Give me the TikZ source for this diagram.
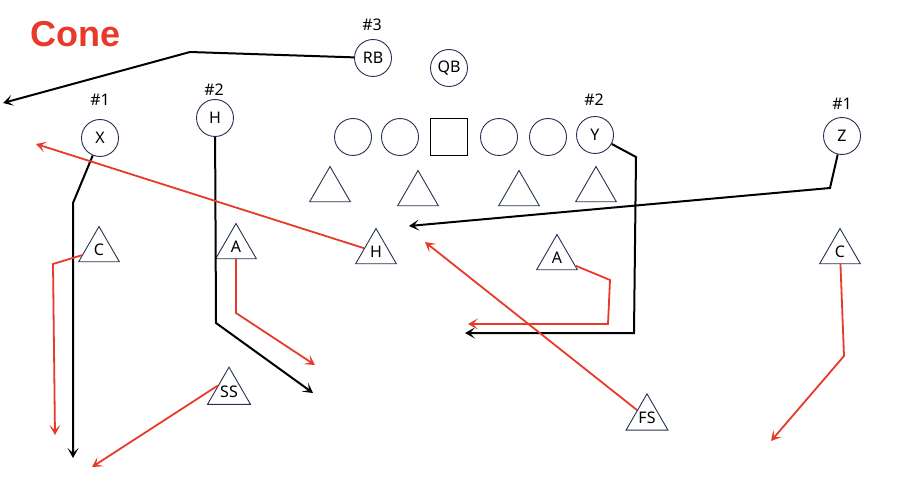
\documentclass[tikz,border=0pt]{standalone}
\usepackage{fontspec}
\setmainfont{Noto Sans}
\newfontfamily\titlefont{Liberation Sans}
\usetikzlibrary{shapes.geometric,arrows.meta}
\definecolor{conered}{RGB}{232,57,41}
\definecolor{navy}{RGB}{38,50,82}
\tikzset{
  player/.style={circle, draw=navy, line width=0.9pt, minimum size=37pt, inner sep=0pt},
  snapper/.style={rectangle, draw=black, line width=0.9pt, minimum size=37pt, inner sep=0pt},
  defender/.style={regular polygon, regular polygon sides=3, draw=navy, line width=0.9pt, minimum size=47pt, inner sep=0pt},
  route/.style={line width=2pt, -{Stealth[length=10pt,width=11pt,inset=5pt]}},
  offroute/.style={route, draw=black},
  defroute/.style={route, draw=conered, line width=1.8pt},
}
\begin{document}
\begin{tikzpicture}[x=1pt, y=-1pt, every node/.style={font=\fontsize{16}{18}\selectfont}]
  \useasboundingbox (0,0) rectangle (906,500);
  \node[anchor=base west, inner sep=0pt, text=conered, font=\titlefont\bfseries\fontsize{36}{40}\selectfont] (title) at (30,47) {Cone};
  % offense
  \node[player] (RB) at (373,58) {RB};
  \node[player] (QB) at (449,68) {QB};
  \node[player] (X) at (100,138) {X};
  \node[player] (H) at (215,118) {H};
  \node[player] (LT) at (353,137) {};
  \node[player] (LG) at (400,137) {};
  \node[snapper] (OC) at (449,137) {};
  \node[player] (RG) at (499,137) {};
  \node[player] (RT) at (548,137) {};
  \node[player] (Y) at (595,135) {Y};
  \node[player] (Z) at (842,136) {Z};
  \node (numRB) at (372,25) {\#3};
  \node (numX) at (100,100) {\#1};
  \node (numH) at (214,90) {\#2};
  \node (numY) at (594,100) {\#2};
  \node (numZ) at (842,104) {\#1};
  % defense
  \node[defender] (DT1) at (330,190) {};
  \node[defender] (DT2) at (418,194) {};
  \node[defender] (DT3) at (519,194) {};
  \node[defender] (DT4) at (596,190) {};
  \node[defender] (CBl) at (99,250) {C};
  \node[defender] (ABl) at (236,247) {A};
  \node[defender] (HB) at (376,252) {H};
  \node[defender] (SS) at (229,392) {SS};
  \node[defender] (ABr) at (557,258) {A};
  \node[defender] (FS) at (647,418) {FS};
  \node[defender] (CBr) at (840,252) {C};
  % offensive routes
  \coordinate (rbk) at (190,52);  \coordinate (rbe) at (3,103);
  \coordinate (xk) at (73,203);   \coordinate (xe) at (73,458);
  \coordinate (hk) at (216,323);  \coordinate (he) at (313,393);
  \coordinate (yk1) at (636,157); \coordinate (yk2) at (634,333); \coordinate (ye) at (465,333);
  \coordinate (zk) at (830,188);  \coordinate (ze) at (409,226);
  \draw[offroute] (RB) -- (rbk) -- (rbe);
  \draw[offroute] (X) -- (xk) -- (xe);
  \draw[offroute] (H) -- (hk) -- (he);
  \draw[offroute] (Y) -- (yk1) -- (yk2) -- (ye);
  \draw[offroute] (Z) -- (zk) -- (ze);
  % coverage
  \coordinate (hbe) at (36,144);
  \coordinate (cblk) at (53,264);  \coordinate (cble) at (55,435);
  \coordinate (ablk) at (236,313); \coordinate (able) at (315,365);
  \coordinate (sse) at (92,467);
  \coordinate (fse) at (425,242);
  \coordinate (abrk1) at (610,280); \coordinate (abrk2) at (608,324); \coordinate (abre) at (468,324);
  \coordinate (cbrk) at (844,356); \coordinate (cbre) at (771,441);
  \draw[defroute] (HB) -- (hbe);
  \draw[defroute] (CBl) -- (cblk) -- (cble);
  \draw[defroute] (ABl) -- (ablk) -- (able);
  \draw[defroute] (SS.side 1) -- (sse);
  \draw[defroute] (FS) -- (fse);
  \draw[defroute] (ABr) -- (abrk1) -- (abrk2) -- (abre);
  \draw[defroute] (CBr) -- (cbrk) -- (cbre);
\end{tikzpicture}
\end{document}
